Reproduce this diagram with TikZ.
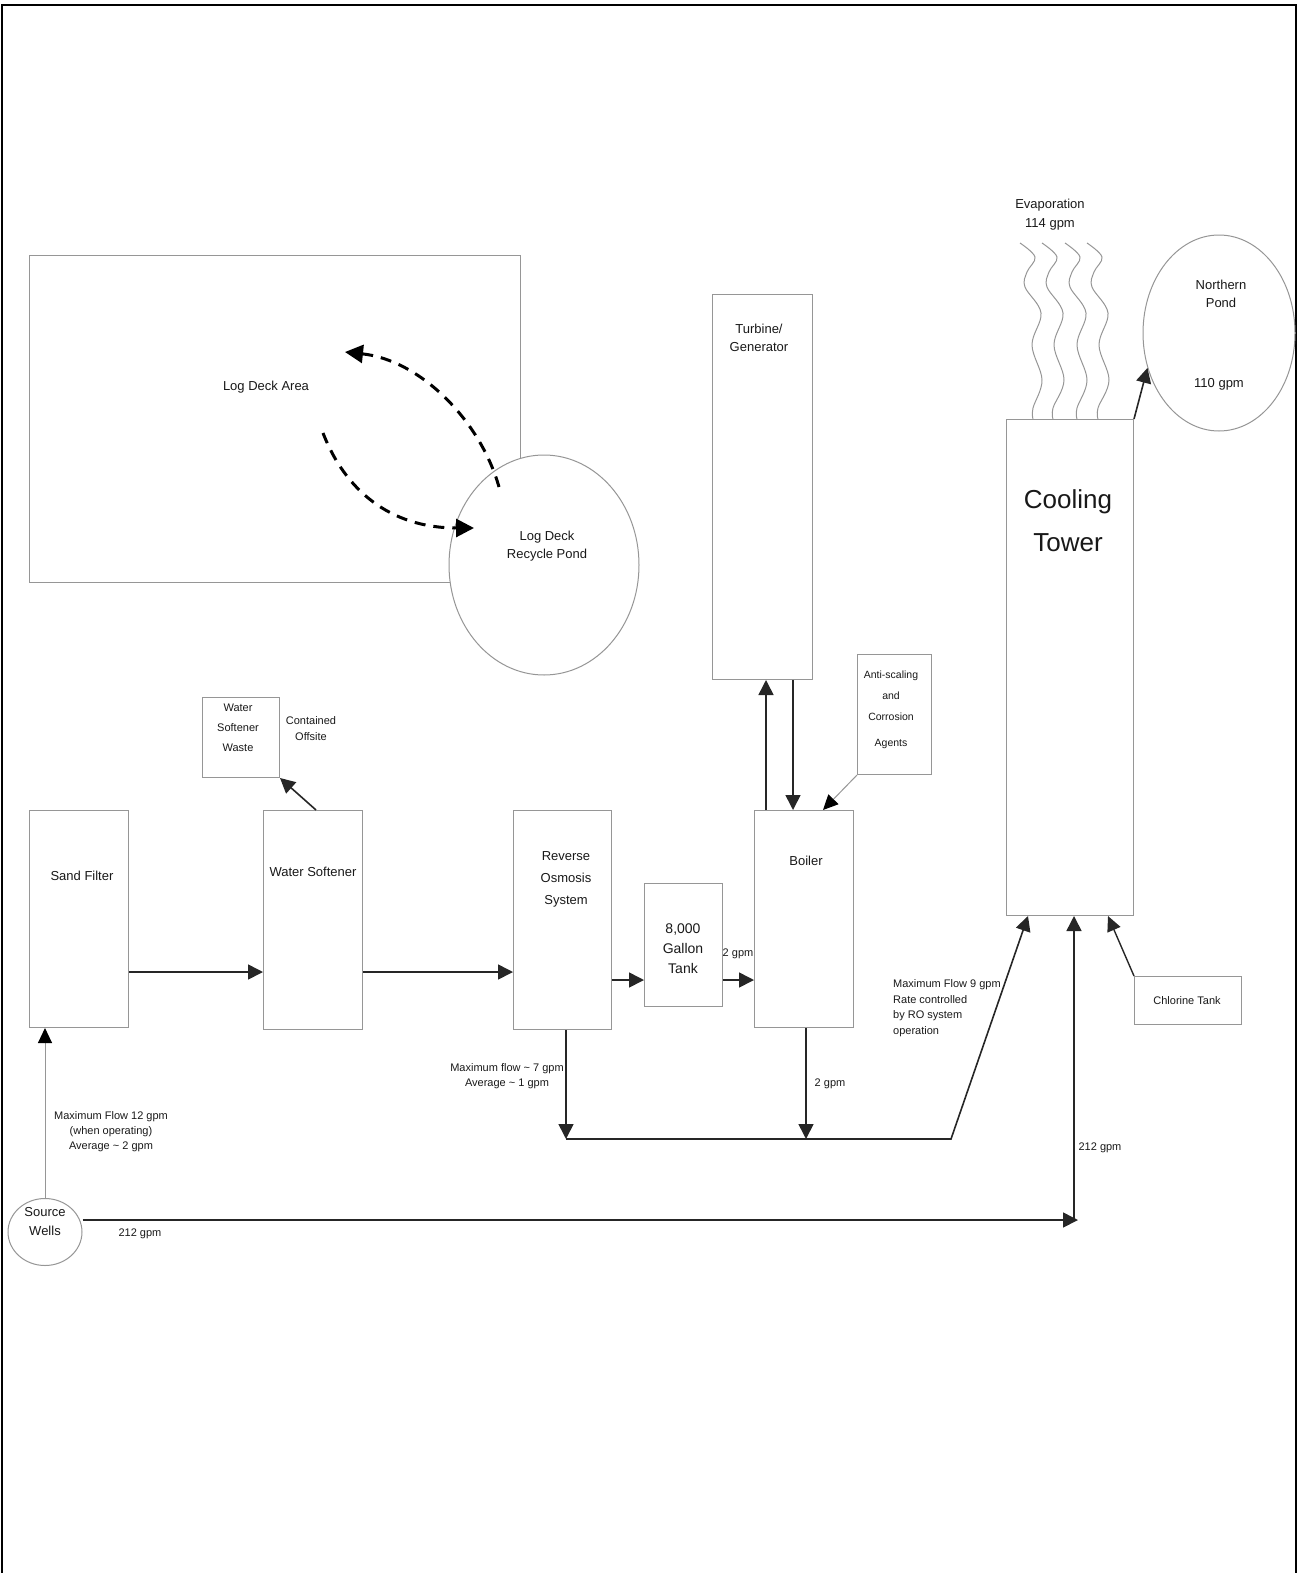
\documentclass[tikz,border=0pt]{standalone}
\usepackage{fontspec}
\setmainfont{Liberation Sans}
\usetikzlibrary{arrows.meta,shapes.geometric}
\definecolor{boxgray}{RGB}{150,150,150}
\definecolor{txt}{RGB}{25,25,25}
\begin{document}
\begin{tikzpicture}[x=1pt,y=-1pt,
  box/.style={draw=boxgray, line width=1pt, fill=white, inner sep=0pt, anchor=north west},
  pond/.style={ellipse, draw=boxgray, line width=1pt, fill=white, inner sep=0pt},
  lbl/.style={text=txt, inner sep=0pt, align=center},
  big/.style={font=\fontsize{13}{18}\selectfont},
  small/.style={font=\fontsize{11}{15}\selectfont},
  arr/.style={draw=black!85, line width=1.6pt, -{Triangle[length=15pt,width=15pt]}},
  thinarr/.style={draw=boxgray, line width=1pt, -{Triangle[length=15pt,width=14pt,color=black]}},
  dasharr/.style={draw=black, line width=3pt, dash pattern=on 11pt off 8pt, -{Triangle[length=18pt,width=18pt]}},
  wave/.style={draw=boxgray, line width=1pt}
]
\useasboundingbox (0,0) rectangle (1298,1573);
% frame
\draw[line width=2pt, black] (2,1573) -- (2,5) -- (1296,5) -- (1296,1573);

% log deck area and recycle pond
\node[box, minimum width=491pt, minimum height=327pt] (lda) at (29,255) {};
\node[lbl, big] (ldatext) at (266,387) {Log Deck Area};
\node[pond, minimum width=190pt, minimum height=220pt] (ldp) at (544,565) {};
\node[lbl, big] (ldptext) at (547,546) {Log Deck\\Recycle Pond};
\draw[dasharr] (499,487) .. controls (480,420) and (420,360) .. (345,352);
\draw[dasharr] (323,433) .. controls (345,490) and (390,528) .. (474,528);

% turbine / generator
\node[box, minimum width=100pt, minimum height=385pt] (turb) at (712,294) {};
\node[lbl, big] (turbtext) at (759,338) {Turbine/\\Generator};

% cooling tower
\node[box, minimum width=127pt, minimum height=496pt] (ct) at (1006,419) {};
\node[lbl, font=\fontsize{26}{43}\selectfont] (cttext) at (1068,521) {Cooling\\Tower};

% evaporation
\node[lbl, font=\fontsize{13}{19}\selectfont] (evap) at (1050,215) {Evaporation\\114 gpm};
\foreach \s/\b in {1020/13,1042/11,1065/12,1087/11}{
  \draw[wave] plot[smooth, tension=0.6] coordinates {(\s,243) (\s+15,257) (\s+7,272) (\s+5,287) (\s+21,313) (\s+12,345) (\s+22,380) (\s+\b,408) (\s+\b,419)};
}

% northern pond
\node[pond, minimum width=152pt, minimum height=196pt] (np) at (1219,333) {};
\node[lbl, big] (nptext) at (1221,294) {Northern\\Pond};
\node[lbl, big] (npflow) at (1219,384) {110 gpm};
\draw[arr] (ct.north east) -- (np.206);

% anti-scaling
\node[box, minimum width=74pt, minimum height=120pt] (anti) at (857,654) {};
\node[lbl, font=\fontsize{10.5}{21}\selectfont] (antitext) at (891,710) {Anti-scaling\\and\\Corrosion\\[5pt]Agents};

% boiler
\node[box, minimum width=99pt, minimum height=217pt] (boiler) at (754,810) {};
\node[lbl, big] (boilertext) at (806,861) {Boiler};
\draw[thinarr] (anti.south west) -- ([xshift=-31pt]boiler.north east);

\coordinate (tu) at (766,0);
\coordinate (td) at (793,0);
\draw[arr] (boiler.north -| tu) -- (turb.south -| tu);
\draw[arr] (turb.south -| td) -- (boiler.north -| td);

% water softener waste
\node[box, minimum width=77pt, minimum height=80pt] (waste) at (202,697) {};
\node[lbl, font=\fontsize{11}{20}\selectfont] (wastetext) at (238,728) {Water\\Softener\\Waste};
\node[lbl, font=\fontsize{11}{16}\selectfont] (offsite) at (311,729) {Contained\\Offsite};

% main chain
\node[box, minimum width=99pt, minimum height=217pt] (sand) at (29,810) {};
\node[lbl, big] (sandtext) at (82,876) {Sand Filter};
\node[box, minimum width=99pt, minimum height=219pt] (soft) at (263,810) {};
\node[lbl, big] (softtext) at (313,872) {Water Softener};
\node[box, minimum width=98pt, minimum height=219pt] (ro) at (513,810) {};
\node[lbl, font=\fontsize{13}{22}\selectfont] (rotext) at (566,879) {Reverse\\Osmosis\\System};
\node[box, minimum width=78pt, minimum height=123pt] (tank) at (644,883) {};
\node[lbl, font=\fontsize{14}{20}\selectfont] (tanktext) at (683,949) {8,000\\Gallon\\Tank};
\node[box, minimum width=107pt, minimum height=48pt] (chl) at (1134,976) {};
\node[lbl, small] (chltext) at (1187,1001) {Chlorine Tank};

\draw[arr] ([xshift=3pt]soft.north) -- (waste.south east);

\coordinate (y1) at (0,972);
\coordinate (y2) at (0,980);
\draw[arr] (sand.east |- y1) -- (soft.west |- y1);
\draw[arr] (soft.east |- y1) -- (ro.west |- y1);
\draw[arr] (ro.east |- y2) -- (tank.west |- y2);
\draw[arr] (tank.east |- y2) -- (boiler.west |- y2);
\node[lbl, small] (tankflow) at (738,954) {2 gpm};

% drains to cooling tower
\coordinate (j1) at (566,1139);
\coordinate (j2) at (806,1139);
\coordinate (j3) at (951,1139);
\draw[arr] (ro.south -| j1) -- (j1);
\draw[arr] (boiler.south -| j2) -- (j2);
\draw[arr] (j1) -- (j3) -- ([xshift=22pt]ct.south west);
\node[lbl, small] (roflow) at (507,1076) {Maximum flow \textasciitilde{} 7 gpm\\Average \textasciitilde{} 1 gpm};
\node[lbl, small] (boilerflow) at (830,1084) {2 gpm};
\node[lbl, font=\fontsize{11}{15.5}\selectfont, align=left, anchor=west] (ctflow) at (893,1008) {Maximum Flow 9 gpm\\Rate controlled\\by RO system\\operation};

\draw[draw=black!85, line width=1.4pt, -{Triangle[length=15pt,width=14pt]}] (chl.north west) -- ([xshift=-26pt]ct.south east);

% source wells
\node[pond, minimum width=74pt, minimum height=67pt] (src) at (45,1232) {};
\node[lbl, font=\fontsize{13}{19}\selectfont] (srctext) at (45,1222) {Source\\Wells};
\draw[thinarr] (src.north) -- (src.north |- sand.south);
\node[lbl, small] (sandflow) at (111,1132) {Maximum Flow 12 gpm\\(when operating)\\Average \textasciitilde{} 2 gpm};

\coordinate (k) at (1074,1220);
\draw[arr] (src.east |- k) -- ([xshift=4pt]k);
\draw[arr] (k) -- (ct.south -| k);
\node[lbl, small] (srcflow1) at (140,1234) {212 gpm};
\node[lbl, small] (srcflow2) at (1100,1148) {212 gpm};
\end{tikzpicture}
\end{document}
